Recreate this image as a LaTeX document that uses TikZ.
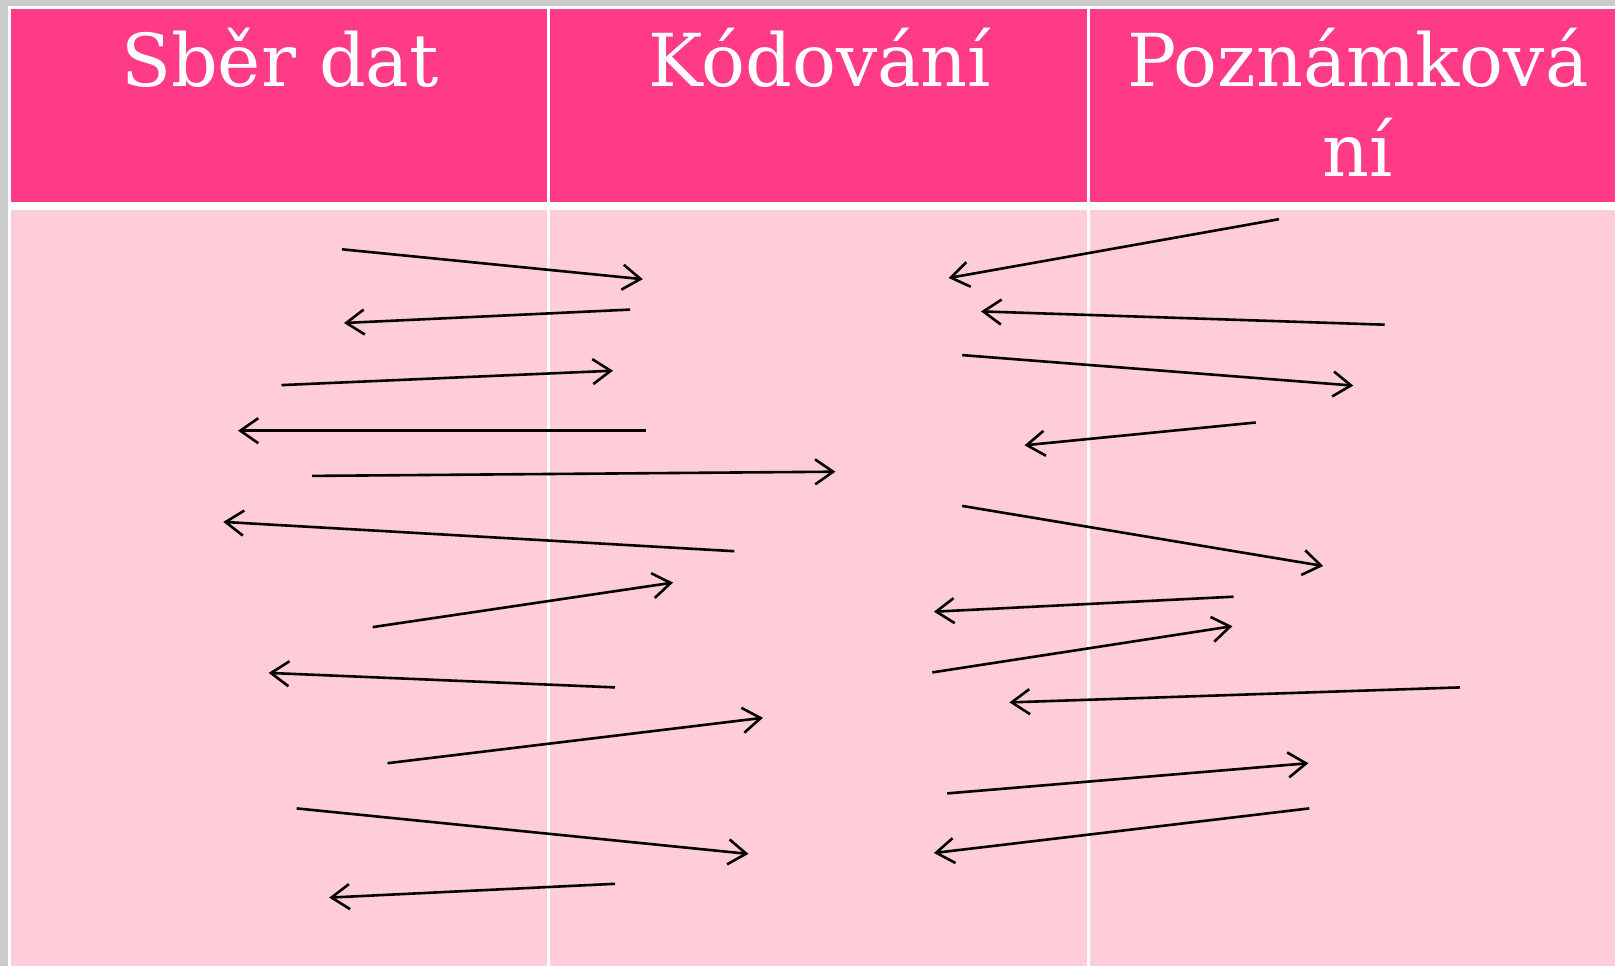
\documentclass[tikz,border=0pt]{standalone}
\usepackage{fontspec}
\setmainfont{DejaVu Serif}
\usetikzlibrary{arrows.meta}
\definecolor{hdr}{HTML}{FF3A87}
\definecolor{bdy}{HTML}{FFCDD8}
\definecolor{framegray}{HTML}{CCCCCC}
\begin{document}
\begin{tikzpicture}[x=1pt,y=-1pt,
  hcell/.style={fill=hdr, draw=none},
  bcell/.style={fill=bdy, draw=none},
  htext/.style={anchor=base, text=white, inner sep=0pt, font=\fontsize{73}{89}\selectfont},
  arr/.style={draw=black, line width=2.6pt, -{Straight Barb[length=18pt,width=25pt]}}]
\useasboundingbox (0,0) rectangle (1615,966);
\clip (0,0) rectangle (1615,966);
% frame
\fill[framegray] (0,0) rectangle (1615,966);
\fill[white] (8,6) rectangle (1640,980);
% header cells
\path[hcell] (11,9) rectangle (547,201.5);
\path[hcell] (550,9) rectangle (1087,201.5);
\path[hcell] (1090,9) rectangle (1640,201.5);
% body cells
\path[bcell] (11,209.5) rectangle (547,980);
\path[bcell] (550,209.5) rectangle (1087,980);
\path[bcell] (1090,209.5) rectangle (1640,980);
% header texts
\node[htext] (h1) at (280,87) {Sběr dat};
\node[htext] (h2) at (820,87) {Kódování};
\node[htext] (h3a) at (1358,87) {Poznámková};
\node[htext] (h3b) at (1358,176) {ní};
% arrow end points, left group
\coordinate (a1s) at (342,249.3);  \coordinate (a1e) at (642.8,279.2);
\coordinate (a2s) at (630.2,309.6);\coordinate (a2e) at (344,323);
\coordinate (a3s) at (281.5,385.1);\coordinate (a3e) at (613,370.7);
\coordinate (a4s) at (646,430.7);  \coordinate (a4e) at (238,430.7);
\coordinate (a5s) at (312,475.9);  \coordinate (a5e) at (835.4,471.7);
\coordinate (a6s) at (734.4,551.2);\coordinate (a6e) at (223.3,521.9);
\coordinate (a7s) at (372.7,627.1);\coordinate (a7e) at (673,582.6);
\coordinate (a8s) at (615,687.4);  \coordinate (a8e) at (268.7,672.9);
\coordinate (a9s) at (387.5,763.2);\coordinate (a9e) at (763,717.8);
\coordinate (a10s) at (296.7,808.4);\coordinate (a10e) at (748.5,853.9);
\coordinate (a11s) at (615,883.8); \coordinate (a11e) at (329.2,897.6);
% arrow end points, right group
\coordinate (b1s) at (1278.9,219.2);\coordinate (b1e) at (948.6,278);
\coordinate (b2s) at (1384.7,324.7);\coordinate (b2e) at (981,311.4);
\coordinate (b3s) at (962.2,355.1); \coordinate (b3e) at (1353.3,385.6);
\coordinate (b4s) at (1255.7,422.5);\coordinate (b4e) at (1024.5,445.3);
\coordinate (b5s) at (962.2,505.9); \coordinate (b5e) at (1323.2,566);
\coordinate (b6s) at (1233.5,596.7);\coordinate (b6e) at (933.9,611.7);
\coordinate (b7s) at (932.3,672.4); \coordinate (b7e) at (1232.4,626.2);
\coordinate (b8s) at (1460,687.4);  \coordinate (b8e) at (1009.4,702.4);
\coordinate (b9s) at (947.2,793.4); \coordinate (b9e) at (1308.4,763.2);
\coordinate (b10s) at (1309.3,808.4);\coordinate (b10e) at (933.9,853);
% arrows
\foreach \n in {a1,a2,a3,a4,a5,a6,a7,a8,a9,a10,a11,b1,b2,b3,b4,b5,b6,b7,b8,b9,b10}
  \draw[arr] (\n s) -- (\n e);
\end{tikzpicture}
\end{document}
